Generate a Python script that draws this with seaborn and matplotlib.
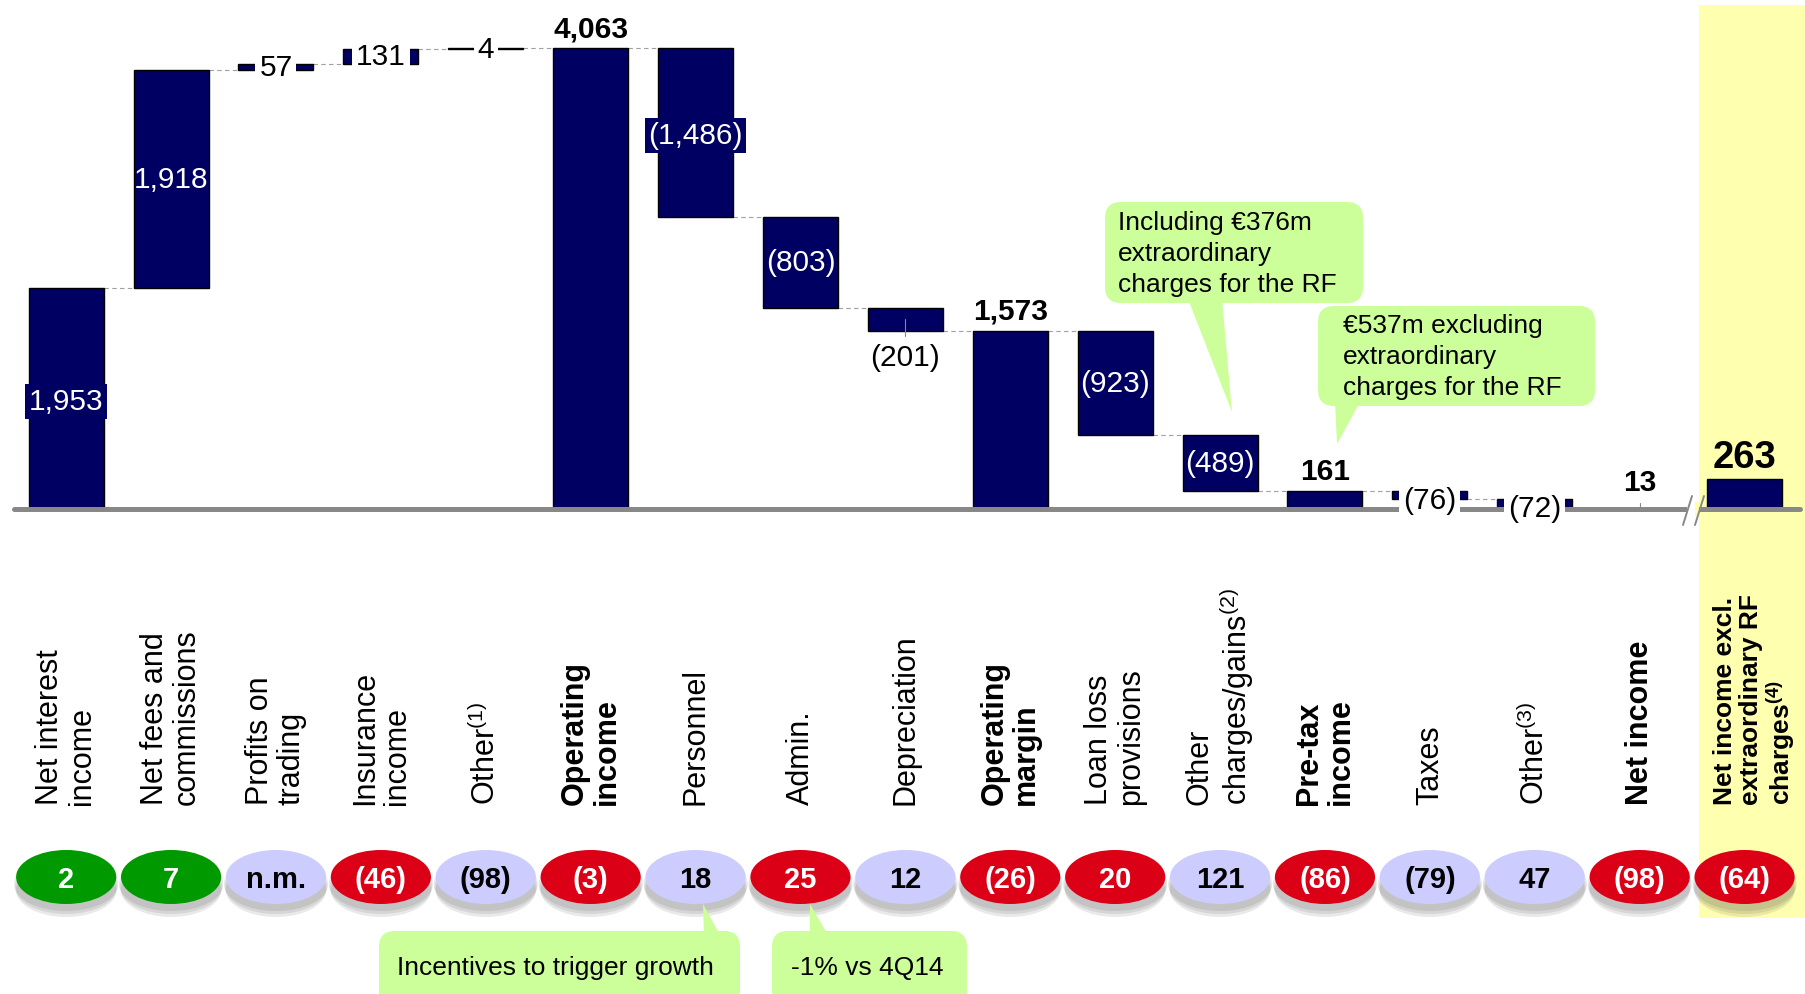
import numpy as np
import pandas as pd
import matplotlib
matplotlib.use("Agg")
import matplotlib.pyplot as plt
from matplotlib.patches import Ellipse, FancyBboxPatch, Polygon, Rectangle
from matplotlib.transforms import Affine2D, blended_transform_factory
import seaborn as sns

# ---- data -------------------------------------------------------------
keys = ["nii", "fees", "trading", "insurance", "other1", "op_income",
        "personnel", "admin", "depreciation", "op_margin", "llp",
        "other_charges", "pretax", "taxes", "other3", "net_income",
        "net_income_excl"]
labels = ["Net interest\nincome", "Net fees and\ncommissions",
          "Profits on\ntrading", "Insurance\nincome", r"Other$^{(1)}$",
          "Operating\nincome", "Personnel", "Admin.", "Depreciation",
          "Operating\nmargin", "Loan loss\nprovisions",
          "Other\n" + r"charges/gains$^{(2)}$", "Pre-tax\nincome", "Taxes",
          r"Other$^{(3)}$", "Net income",
          "Net income excl.\nextraordinary RF\n" + r"charges$^{\mathbf{(4)}}$"]
values = [1953, 1918, 57, 131, 4, 4063, -1486, -803, -201, 1573, -923,
          -489, 161, -76, -72, 13, 263]
kinds = ["step", "step", "step", "step", "step", "total", "step", "step",
         "step", "total", "step", "step", "total", "step", "step", "total",
         "total"]
bold_label = [False, False, False, False, False, True, False, False, False,
              True, False, False, True, False, False, True, True]
change_text = ["2", "7", "n.m.", "(46)", "(98)", "(3)", "18", "25", "12",
               "(26)", "20", "121", "(86)", "(79)", "47", "(98)", "(64)"]
change_tone = ["up", "up", "flat", "down", "flat", "down", "flat", "down",
               "flat", "down", "down", "flat", "down", "flat", "flat",
               "down", "down"]
value_style = ["boxed", "inside", "gap", "gap", "gap", "above", "boxed",
               "inside", "below", "above", "inside", "inside", "above",
               "gap", "gap", "above", "above_big"]

notes = ["Including €376m\nextraordinary\ncharges for the RF",
         "€537m excluding\nextraordinary\ncharges for the RF",
         "Incentives to trigger growth",
         "-1% vs 4Q14"]

# ---- styling ----------------------------------------------------------
NAVY = "#000062"
GREY = "#888888"
NOTE_GREEN = "#CCFF99"
BAND_YELLOW = "#FFFFB0"
TONE_COLORS = {"up": "#009A00", "down": "#DC0016", "flat": "#CCCCFF"}
TONE_TEXT = {"up": "white", "down": "white", "flat": "black"}
BAR_W = 0.715
VAL_FS = 21.5

sns.set_theme(style="white")
plt.rcParams["font.family"] = ["Liberation Sans", "DejaVu Sans"]
plt.rcParams["mathtext.fontset"] = "custom"
plt.rcParams["mathtext.rm"] = "Liberation Sans"
plt.rcParams["mathtext.it"] = "Liberation Sans:italic"
plt.rcParams["mathtext.bf"] = "Liberation Sans:bold"

W, H = 1805, 995
fig = plt.figure(figsize=(W / 100, H / 100), dpi=100)
ax = fig.add_axes([0, 0, 1, 1])

# ---- waterfall geometry -------------------------------------------------
lows, highs, ends = [], [], []
run = 0
for v, k in zip(values, kinds):
    if k == "total":
        lo, hi = 0, v
        run = v
    else:
        start = run
        run = run + v
        lo, hi = min(start, run), max(start, run)
    lows.append(lo)
    highs.append(hi)
    ends.append(run)

df = pd.DataFrame({"item": keys, "top": highs})
sns.barplot(data=df, x="item", y="top", order=keys, color=NAVY,
            saturation=1, width=BAR_W, edgecolor="black", linewidth=1.0,
            errorbar=None, ax=ax, zorder=2)
for patch, lo, hi in zip(ax.patches, lows, highs):
    patch.set_y(lo)
    patch.set_height(hi - lo)

# axis frame: baseline sits 510 px from the top, 0.11334 px per unit
PX_PER_UNIT = 0.11334
BASE_PX = 510
ax.set_xlim(-0.631, 16.576)
ax.set_ylim(-(H - BASE_PX) / PX_PER_UNIT, BASE_PX / PX_PER_UNIT)
ax.set_axis_off()
ax.set_autoscale_on(False)

pix = Affine2D().scale(1, -1).translate(0, H)
x_data_y_pix = blended_transform_factory(ax.transData, pix)
x_pix_y_data = blended_transform_factory(pix, ax.transData)

# highlighted column for the adjusted result
ax.add_patch(Rectangle((1699, 6), W - 1699, 913, transform=pix,
                       fc=BAND_YELLOW, ec="none", zorder=0))

# baseline
ax.plot([14, 1800], [0, 0], transform=x_pix_y_data, color=GREY, lw=3.6,
        solid_capstyle="round", zorder=3)
# axis break before the last column
ax.add_patch(Rectangle((1687, 503), 12, 14, transform=pix, fc="white",
                       ec="none", zorder=3.5))
ax.add_patch(Rectangle((1695, 503), 4, 14, transform=pix, fc=BAND_YELLOW,
                       ec="none", zorder=3.6))
for x0 in (1683, 1695):
    ax.plot([x0, x0 + 9], [526, 497], transform=pix, color=GREY, lw=1.4,
            zorder=3.7)

# connectors between consecutive bars
for i in range(len(values) - 2):
    ax.plot([i + BAR_W / 2, i + 1 - BAR_W / 2], [ends[i], ends[i]],
            color="#A0A0A0", lw=0.8, ls=(0, (4, 3)), zorder=1.5)


def fmt(v):
    s = f"{abs(v):,}"
    return f"({s})" if v < 0 else s


# value labels
for i, (v, lo, hi, st) in enumerate(zip(values, lows, highs, value_style)):
    mid = (lo + hi) / 2
    txt = fmt(v)
    if st == "inside":
        ax.text(i, mid, txt, ha="center", va="center", color="white",
                fontsize=VAL_FS, zorder=5)
    elif st == "boxed":
        ax.annotate(txt, (i, mid), xytext=(0, -2), textcoords="offset points",
                    ha="center", va="center", color="white",
                    fontsize=VAL_FS, zorder=5,
                    bbox=dict(boxstyle="square,pad=0.12", fc=NAVY,
                              ec="none"))
    elif st == "gap":
        dy = -3.5 if hi < 200 else 0
        ax.annotate(txt, (i, mid), xytext=(0, dy), textcoords="offset points",
                    ha="center", va="center", color="black", fontsize=VAL_FS,
                    zorder=5,
                    bbox=dict(boxstyle="square,pad=0.13", fc="white",
                              ec="none"))
    elif st == "below":
        ax.plot([i, i], [mid, lo - 45], color="#888888", lw=0.8, zorder=4)
        ax.annotate(txt, (i, lo), xytext=(0, -9), textcoords="offset points",
                    ha="center", va="top", color="black", fontsize=VAL_FS,
                    zorder=5)
    elif st == "above":
        if hi - lo < 50:
            ax.plot([i, i], [hi, hi + 38], color="#888888", lw=0.8, zorder=4)
            off = 8
        else:
            off = 4.5
        ax.annotate(txt, (i, hi), xytext=(0, off), textcoords="offset points",
                    ha="center", va="bottom", color="black", fontsize=VAL_FS,
                    fontweight="bold", zorder=5)
    elif st == "above_big":
        ax.annotate(txt, (i, hi), xytext=(0, 3), textcoords="offset points",
                    ha="center", va="bottom", color="black", fontsize=27.5,
                    fontweight="bold", zorder=5)

# category labels (the highlighted column uses a slightly smaller size)
for i, (lab, b) in enumerate(zip(labels, bold_label)):
    last = i == len(labels) - 1
    ax.text(i + (0.1 if last else 0), 805, lab, transform=x_data_y_pix,
            rotation=90, ha="center", va="bottom", multialignment="left",
            linespacing=1.1 if last else 1.08, fontsize=19 if last else 22,
            fontweight="bold" if b else "normal", color="black", zorder=5)

# year-on-year change ovals
OVAL_Y, OVAL_W, OVAL_H = 878, 0.955, 54
for i, (t, tone) in enumerate(zip(change_text, change_tone)):
    for k, dy in enumerate((13, 10, 7)):
        ax.add_patch(Ellipse((i, OVAL_Y + dy), OVAL_W * (1.0 + 0.02 * k),
                             OVAL_H, transform=x_data_y_pix, fc="#383838",
                             ec="none", alpha=0.11, zorder=3))
    ax.add_patch(Ellipse((i, OVAL_Y), OVAL_W, OVAL_H, transform=x_data_y_pix,
                         fc=TONE_COLORS[tone], ec="none", zorder=4))
    ax.text(i, OVAL_Y + 2, t, transform=x_data_y_pix, ha="center",
            va="center", fontsize=21, fontweight="bold",
            color=TONE_TEXT[tone], zorder=5)


# speech-bubble notes
def bubble(box, base, tip, text, text_xy, va="top"):
    x0, y0, x1, y1 = box
    ax.add_patch(FancyBboxPatch((x0, y0), x1 - x0, y1 - y0,
                                boxstyle="round,pad=0,rounding_size=16",
                                transform=pix, fc=NOTE_GREEN, ec="none",
                                zorder=6))
    ax.add_patch(Polygon([base[0], base[1], tip], closed=True, transform=pix,
                         fc=NOTE_GREEN, ec="none", zorder=6))
    ax.text(text_xy[0], text_xy[1], text, transform=pix, ha="left", va=va,
            fontsize=19, linespacing=1.36, color="black", zorder=7)


bubble((1105, 203, 1363, 304), ((1188, 300), (1222, 300)), (1232, 413),
       notes[0], (1118, 211))
bubble((1318, 307, 1595, 407), ((1335, 403), (1360, 403)), (1337, 445),
       notes[1], (1343, 314))
bubble((379, 932, 740, 1012), ((704, 936), (720, 936)), (703, 905),
       notes[2], (397, 968), va="center")
bubble((772, 932, 967, 1012), ((810, 936), (828, 936)), (810, 905),
       notes[3], (791, 968), va="center")

fig.savefig("out.png", dpi=100, facecolor="white")
